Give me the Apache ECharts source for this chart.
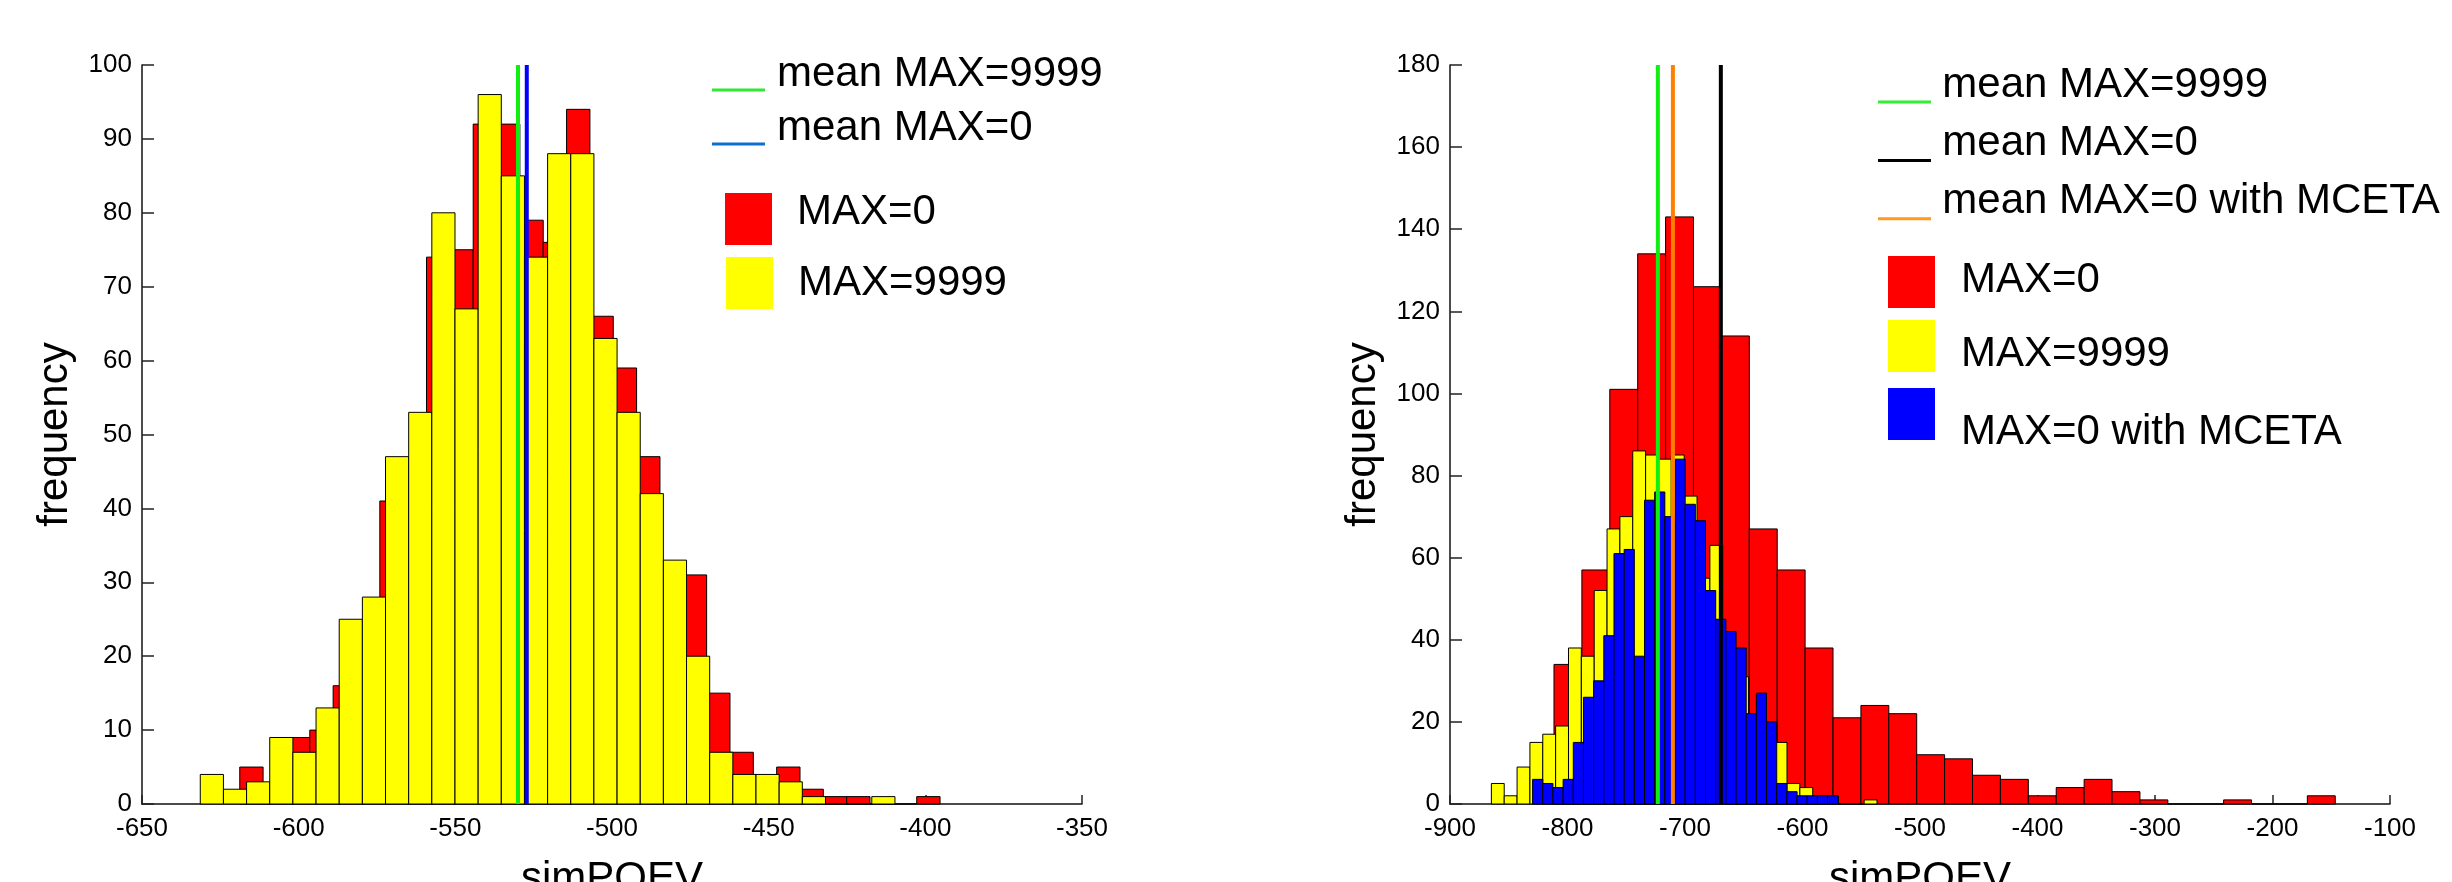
<!DOCTYPE html>
<html>
<head>
<meta charset="utf-8">
<script src="https://cdn.jsdelivr.net/npm/echarts@6/dist/echarts.min.js"></script>
<style>
html, body { margin: 0; padding: 0; background: #fff; }
#chart { width: 2452px; height: 882px; }
</style>
</head>
<body>
<div id="chart"></div>
<script>
// left panel, 30 equal bins over [min, max]
var leftXLimits = [-650, -350];
var leftXStep = 50;
var leftYLimits = [0, 100];
var leftYStep = 10;
var leftRedRange = [-618.8, -395.3];
var leftRedCounts = [5, 2, 9, 10, 16, 22, 41, 45, 74, 75, 92, 92, 79, 76, 94, 66, 59, 47, 30, 31, 15, 7, 3, 5, 2, 1, 1, 0, 0, 1];
var leftYellowRange = [-631.4, -409.7];
var leftYellowCounts = [4, 2, 3, 9, 7, 13, 25, 28, 47, 53, 80, 67, 96, 85, 74, 88, 88, 63, 53, 42, 33, 20, 7, 4, 4, 3, 1, 0, 0, 1];
var leftMeanNames = ['mean MAX=9999', 'mean MAX=0'];
var leftMeanValues = [-530.0, -527.2];

// right panel
var rightXLimits = [-900, -100];
var rightXStep = 100;
var rightYLimits = [0, 180];
var rightYStep = 20;
var rightRedRange = [-811.5, -146.6];
var rightRedCounts = [34, 57, 101, 134, 143, 126, 114, 67, 57, 38, 21, 24, 22, 12, 11, 7, 6, 2, 4, 6, 3, 1, 0, 0, 1, 0, 0, 2];
var rightYellowRange = [-864.8, -536.6];
var rightYellowCounts = [5, 2, 9, 15, 17, 19, 38, 36, 52, 67, 70, 86, 85, 84, 85, 75, 55, 63, 40, 31, 20, 17, 15, 5, 4, 2, 2, 0, 0, 1];
var rightBlueRange = [-829.7, -570.0];
var rightBlueCounts = [6, 5, 4, 6, 15, 26, 30, 41, 61, 62, 36, 74, 76, 70, 84, 73, 69, 52, 45, 42, 38, 22, 27, 20, 5, 3, 2, 2, 2, 2];
var rightMeanNames = ['mean MAX=9999', 'mean MAX=0', 'mean MAX=0 with MCETA'];
var rightMeanValues = [-723.1, -669.5, -710.3];

var FONT = '"Liberation Sans", Arial, Helvetica, sans-serif';

// hist() style bins: [left edge, right edge, count]
function toBins(range, counts) {
  var w = (range[1] - range[0]) / counts.length;
  return counts.map(function (c, i) {
    return [range[0] + i * w, range[0] + (i + 1) * w, c];
  });
}

function drawBin(params, api) {
  var top = api.coord([api.value(0), api.value(2)]);
  var base = api.coord([api.value(1), 0]);
  return {
    type: 'rect',
    shape: { x: top[0], y: top[1], width: base[0] - top[0], height: base[1] - top[1] },
    style: { fill: api.visual('color'), stroke: '#000', lineWidth: 1 }
  };
}

function histSeries(name, color, axis, range, counts) {
  return {
    type: 'custom',
    name: name,
    xAxisIndex: axis,
    yAxisIndex: axis,
    renderItem: drawBin,
    itemStyle: { color: color },
    encode: { x: [0, 1], y: 2 },
    data: toBins(range, counts),
    z: 2
  };
}

function meanSeries(name, color, axis, value, ymax) {
  return {
    type: 'line',
    name: name,
    xAxisIndex: axis,
    yAxisIndex: axis,
    symbol: 'none',
    data: [[value, 0], [value, ymax]],
    lineStyle: { color: color, width: 4 },
    itemStyle: { color: color },
    z: 5
  };
}

function xAxisFor(idx, lim, step) {
  return {
    type: 'value', gridIndex: idx, min: lim[0], max: lim[1], interval: step,
    name: 'simPOEV', nameLocation: 'middle', nameGap: 54,
    nameTextStyle: { fontSize: 42, color: '#000', fontFamily: FONT },
    axisLine: { show: true, onZero: false, lineStyle: { color: '#111', width: 1.5 } },
    axisTick: { show: true, inside: true, length: 9, lineStyle: { color: '#222', width: 1.5 } },
    axisLabel: { fontSize: 26, color: '#000', margin: 12, fontFamily: FONT, showMinLabel: true, showMaxLabel: true },
    splitLine: { show: false }
  };
}

function yAxisFor(idx, lim, step) {
  return {
    type: 'value', gridIndex: idx, min: lim[0], max: lim[1], interval: step,
    name: 'frequency', nameLocation: 'middle', nameGap: 66, nameRotate: 90,
    nameTextStyle: { fontSize: 42, color: '#000', fontFamily: FONT },
    axisLine: { show: true, onZero: false, lineStyle: { color: '#111', width: 1.5 } },
    axisTick: { show: true, inside: true, length: 12, lineStyle: { color: '#222', width: 1.5 } },
    axisLabel: { fontSize: 26, color: '#000', margin: 10, fontFamily: FONT, showMinLabel: true, showMaxLabel: true },
    splitLine: { show: false }
  };
}

// legend icons: a short line under the text, with room before the text
var leftLineIcon = 'path://M0,0h0.01v0.01h-0.01z M59.99,0h0.01v0.01h-0.01z M0,32h53v3h-53z';
var rightLineIcon = 'path://M0,0h0.01v0.01h-0.01z M59.29,0h0.01v0.01h-0.01z M0,34h53v3h-53z';
var legendText = { fontSize: 42, color: '#000', fontFamily: FONT };

function lineLegend(left, top, gap, w, h, items) {
  return {
    orient: 'vertical', left: left, top: top, padding: 0, itemGap: gap,
    itemWidth: w, itemHeight: h, selectedMode: false,
    itemStyle: { borderWidth: 0 },
    textStyle: legendText,
    data: items
  };
}

// one square entry; shift moves the text up (<0) or down (>0) against the square
function boxLegend(left, squareTop, shift, textGap, name, color) {
  var h = 52 + 2 * Math.abs(shift);
  var sq = shift < 0 ? h - 52 : 0;
  var w = 47 + textGap;
  var icon = 'path://M0,' + sq + 'h47v52h-47z M0,0h0.01v0.01h-0.01z M' +
    (w - 0.01) + ',' + (h - 0.01) + 'h0.01v0.01h-0.01z';
  return {
    orient: 'vertical', left: left, top: squareTop - sq, padding: 0,
    itemWidth: w, itemHeight: h, selectedMode: false,
    itemStyle: { borderWidth: 0 },
    textStyle: legendText,
    data: [{ name: name, icon: icon, itemStyle: { color: color } }]
  };
}

var chart = echarts.init(document.getElementById('chart'));

var option = {
  animation: false,
  backgroundColor: '#fff',
  textStyle: { fontFamily: FONT },
  grid: [
    { left: 142, top: 65, width: 940, height: 739, containLabel: false, outerBoundsMode: 'none' },
    { left: 1450, top: 65, width: 940, height: 739, containLabel: false, outerBoundsMode: 'none' }
  ],
  xAxis: [xAxisFor(0, leftXLimits, leftXStep), xAxisFor(1, rightXLimits, rightXStep)],
  yAxis: [yAxisFor(0, leftYLimits, leftYStep), yAxisFor(1, rightYLimits, rightYStep)],
  legend: [
    lineLegend(712, 53, 12, 60, 35, [
      { name: leftMeanNames[0], icon: leftLineIcon, itemStyle: { color: '#33e633' } },
      { name: leftMeanNames[1], icon: leftLineIcon, itemStyle: { color: '#0b6fcf' } }
    ]),
    boxLegend(725, 193, -7, 20, 'MAX=0', '#ff0000'),
    boxLegend(726, 257, 0, 20, 'MAX=9999', '#ffff00'),
    lineLegend(1878, 64, 16.4, 59.3, 37, [
      { name: rightMeanNames[0], icon: rightLineIcon, itemStyle: { color: '#33ee33' } },
      { name: rightMeanNames[1], icon: rightLineIcon, itemStyle: { color: '#000000' } },
      { name: rightMeanNames[2], icon: rightLineIcon, itemStyle: { color: '#ff9a1f' } }
    ]),
    boxLegend(1888, 256, -2, 21, 'MAX=0', '#ff0000'),
    boxLegend(1888, 320, 8, 21, 'MAX=9999', '#ffff00'),
    boxLegend(1888, 388, 18, 21, 'MAX=0 with MCETA', '#0000ff')
  ],
  series: [
    histSeries('MAX=0', '#ff0000', 0, leftRedRange, leftRedCounts),
    histSeries('MAX=9999', '#ffff00', 0, leftYellowRange, leftYellowCounts),
    meanSeries(leftMeanNames[0], '#11ee11', 0, leftMeanValues[0], leftYLimits[1]),
    meanSeries(leftMeanNames[1], '#0000ff', 0, leftMeanValues[1], leftYLimits[1]),

    histSeries('MAX=0', '#ff0000', 1, rightRedRange, rightRedCounts),
    histSeries('MAX=9999', '#ffff00', 1, rightYellowRange, rightYellowCounts),
    histSeries('MAX=0 with MCETA', '#0000ff', 1, rightBlueRange, rightBlueCounts),
    meanSeries(rightMeanNames[0], '#11ee11', 1, rightMeanValues[0], rightYLimits[1]),
    meanSeries(rightMeanNames[2], '#ff8000', 1, rightMeanValues[2], rightYLimits[1]),
    meanSeries(rightMeanNames[1], '#000000', 1, rightMeanValues[1], rightYLimits[1])
  ]
};

chart.setOption(option);
</script>
</body>
</html>
